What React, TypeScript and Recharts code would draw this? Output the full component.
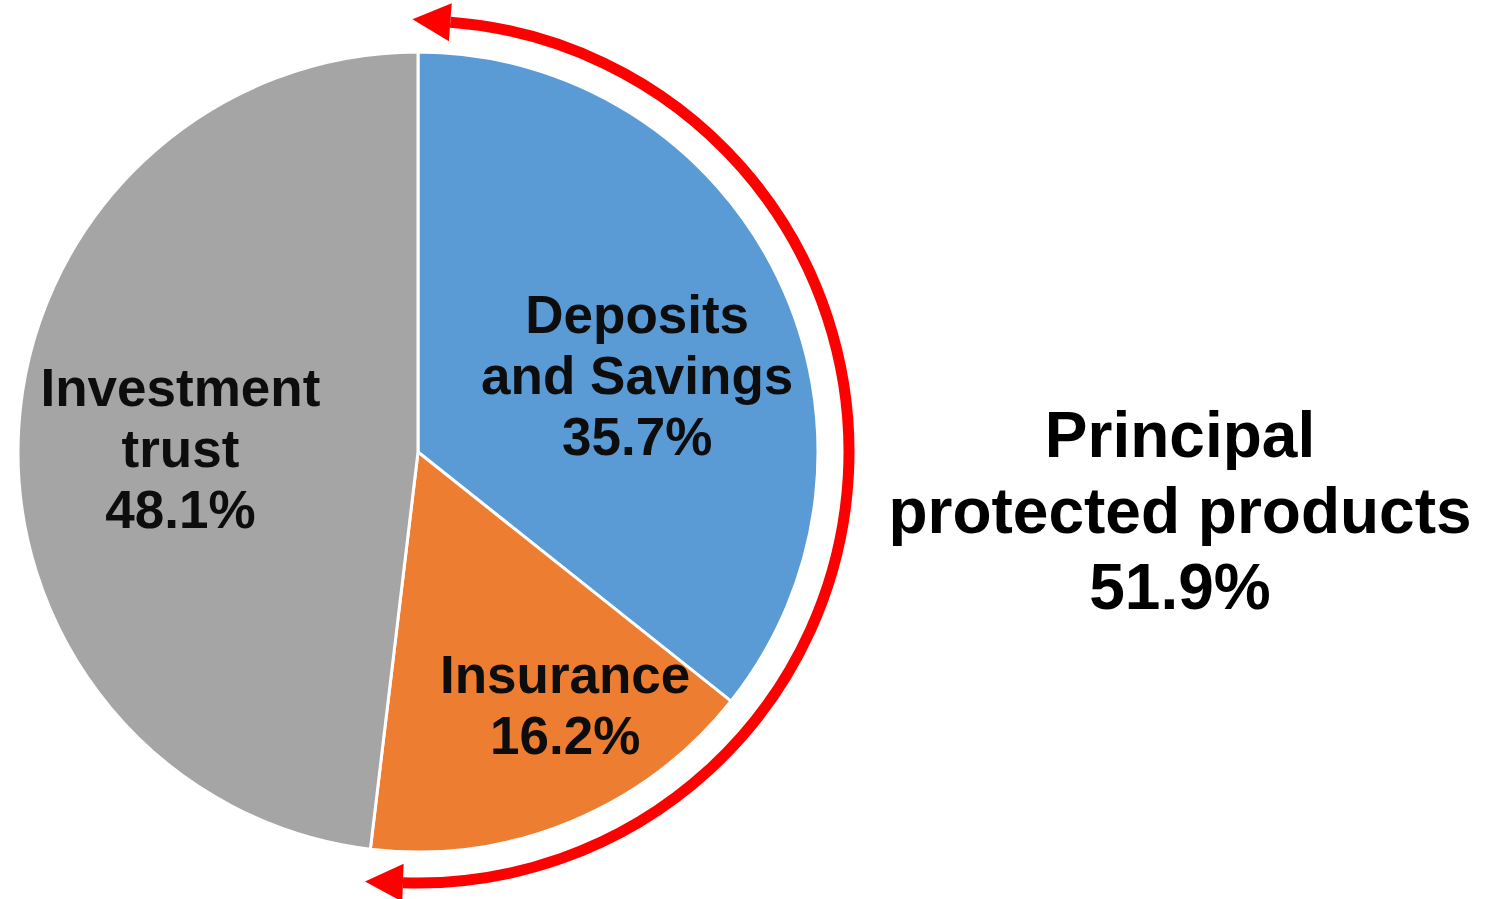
import { PieChart, Pie, Cell, Customized } from "recharts";

// ─── Data ────────────────────────────────────────────────────────────────────

const categories = ["Deposits and Savings", "Insurance", "Investment trust"];
const shares = [35.7, 16.2, 48.1];
const labelLines = [
    ["Deposits", "and Savings"],
    ["Insurance"],
    ["Investment", "trust"],
];
const colors = ["#5B9BD5", "#ED7D31", "#A5A5A5"];
// which slices count as principal protected
const protectedFlags = [true, true, false];

const pieData = categories.map((name, i) => ({ name, value: shares[i], lines: labelLines[i] }));
const protectedShare = shares.reduce((s, v, i) => (protectedFlags[i] ? s + v : s), 0);

// ─── Layout ──────────────────────────────────────────────────────────────────

const W = 1490;
const H = 899;
const CX = 418;
const CY = 452;
const R = 400;
const ARC_R = 431;
const FONT = "'Liberation Sans', Arial, Helvetica, sans-serif";
const TEXT = "#0D0D0D";
const RADIAN = Math.PI / 180;

// label nudges from the default mid-angle spot
const labelNudge: Record<string, [number, number]> = {
    "Deposits and Savings": [3, 27],
    Insurance: [56, 30],
    "Investment trust": [2, 10],
};

function SliceLabel(props: any) {
    const { cx, cy, midAngle, payload, value, name } = props;
    const r = R * 0.6;
    const [nx, ny] = labelNudge[name] ?? [0, 0];
    const x = Number(cx) + r * Math.cos(-midAngle * RADIAN) + nx;
    const y = Number(cy) + r * Math.sin(-midAngle * RADIAN) + ny;
    const lines: string[] = [...(payload.lines ?? []), `${Number(value).toFixed(1)}%`];
    const step = 61;
    return (
        <text x={x} y={y} textAnchor="middle" fill={TEXT} style={{ fontFamily: FONT, fontSize: 53, fontWeight: 700 }}>
            {lines.map((l, i) => (
                <tspan key={i} x={x} y={y + (i - (lines.length - 1) / 2) * step + 19}>
                    {l}
                </tspan>
            ))}
        </text>
    );
}

// point on circle, angle measured clockwise from 12 o'clock
function polar(r: number, deg: number) {
    return [CX + r * Math.sin(deg * RADIAN), CY - r * Math.cos(deg * RADIAN)];
}

function arrowHead(deg: number, sign: number) {
    const [bx, by] = polar(ARC_R, deg);
    const dx = sign * Math.cos(deg * RADIAN);
    const dy = sign * Math.sin(deg * RADIAN);
    const len = 38;
    const half = 19;
    const tip = [bx + dx * len, by + dy * len];
    const a = [bx - dy * half, by + dx * half];
    const b = [bx + dy * half, by - dx * half];
    return `${tip[0]},${tip[1]} ${a[0]},${a[1]} ${b[0]},${b[1]}`;
}

function ProtectedArc() {
    const start = 4.3;
    const end = 182;
    const [sx, sy] = polar(ARC_R, start);
    const [ex, ey] = polar(ARC_R, end);
    return (
        <g>
            <path
                d={`M ${sx} ${sy} A ${ARC_R} ${ARC_R} 0 0 1 ${ex} ${ey}`}
                fill="none"
                stroke="#FF0000"
                strokeWidth={11}
            />
            <polygon points={arrowHead(start, -1)} fill="#FF0000" />
            <polygon points={arrowHead(end, 1)} fill="#FF0000" />
            <text textAnchor="middle" fill="#000" style={{ fontFamily: FONT, fontSize: 64, fontWeight: 700 }}>
                <tspan x={1180} y={457}>Principal</tspan>
                <tspan x={1180} y={533}>protected products</tspan>
                <tspan x={1180} y={609}>{`${protectedShare.toFixed(1)}%`}</tspan>
            </text>
        </g>
    );
}

export default function App() {
    return (
        <div style={{ position: "absolute", left: 0, top: 0, width: W, height: H, background: "#fff" }}>
            <PieChart width={W} height={H} margin={{ top: 0, right: 0, bottom: 0, left: 0 }}>
                <Pie
                    data={pieData}
                    dataKey="value"
                    nameKey="name"
                    cx={CX}
                    cy={CY}
                    outerRadius={R}
                    startAngle={90}
                    endAngle={-270}
                    stroke="#FFFFFF"
                    strokeWidth={3}
                    labelLine={false}
                    label={SliceLabel}
                    isAnimationActive={false}
                >
                    {pieData.map((d, i) => (
                        <Cell key={d.name} fill={colors[i]} />
                    ))}
                </Pie>
                <Customized component={ProtectedArc} />
            </PieChart>
        </div>
    );
}
